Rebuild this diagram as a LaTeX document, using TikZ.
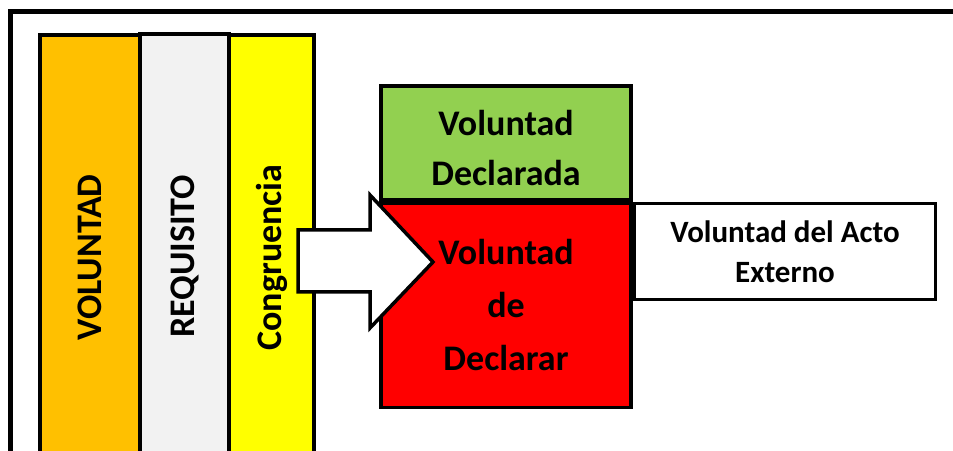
\documentclass[tikz,border=0pt]{standalone}
\usepackage{fontspec}
\setmainfont{Carlito}
\usepackage{xcolor}
\usetikzlibrary{positioning, calc}
\definecolor{volOrange}{HTML}{FFC000}
\definecolor{reqGray}{HTML}{F2F2F2}
\definecolor{congYellow}{HTML}{FFFF00}
\definecolor{declGreen}{HTML}{92D050}
\definecolor{declRed}{HTML}{FF0000}
\tikzset{
  column/.style={rectangle, draw=black, line width=3.5pt, rotate=90,
                 minimum width=445pt, minimum height=100pt, inner sep=0pt,
                 font=\fontsize{36}{42}\selectfont\bfseries},
  colV/.style={column, fill=volOrange},
  colR/.style={column, fill=reqGray, minimum height=89pt},
  colC/.style={column, fill=congYellow, minimum height=85pt},
  declbox/.style={rectangle, draw=black, line width=3.5pt, minimum width=250pt,
                  inner sep=0pt, align=center},
  decltext/.style={align=center, inner sep=0pt},
  extbox/.style={rectangle, draw=black, line width=3.5pt, fill=white,
                 minimum width=301pt, minimum height=96pt, inner sep=0pt,
                 align=center, font=\fontsize{31}{40}\selectfont\bfseries},
  bigarrow/.style={draw=black, line width=3.5pt, fill=white, line join=miter},
  frame/.style={draw=black, line width=5pt},
}
\begin{document}
\begin{tikzpicture}[x=1pt, y=1pt]
  \useasboundingbox (0,0) rectangle (953,450);
  \begin{scope}
    \clip (0,0) rectangle (953,450);

    % outer frame
    \draw[frame] (10,-10) -- (10,438) -- (970,438);

    % columns
    \node[colV] (vol)  at (90,192.5)  {VOLUNTAD};
    \node[colR] (req)  at (184.5,193.5) {REQUISITO};
    \node[colC] (cong) at (271.5,192.5) {Congruencia};

    % declaration boxes
    \node[declbox, fill=declGreen, minimum height=114pt] (decl) at (506,307) {};
    \node[decltext, font=\fontsize{36}{50}\selectfont\bfseries] (declTxt)
          at ($(decl.center)+(0,-5)$) {Voluntad\\Declarada};
    \node[declbox, fill=declRed, minimum height=204pt, below=0pt of decl,
          font=\fontsize{36}{53}\selectfont\bfseries] (wish)
          {Voluntad\\de\\Declarar};
    \node[extbox, anchor=north west] (ext) at (wish.north east)
          {Voluntad del Acto\\Externo};

    % block arrow
    \draw[bigarrow] (298,220) -- (370,220) -- (370,255) -- (433,188)
      -- (370,122) -- (370,158) -- (298,158) -- cycle;
  \end{scope}
\end{tikzpicture}
\end{document}
